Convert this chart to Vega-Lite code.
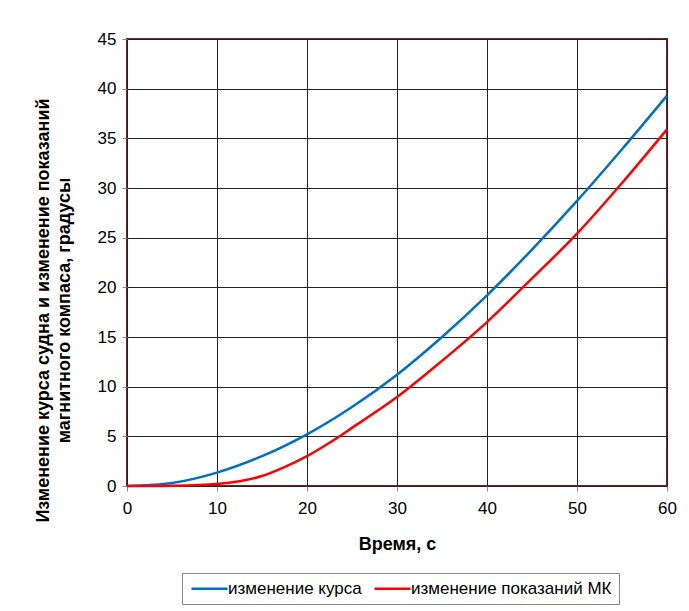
{
  "$schema": "https://vega.github.io/schema/vega-lite/v6.json",
  "autosize": "none",
  "width": 540,
  "height": 447,
  "padding": {"left": 127, "top": 39, "right": 22, "bottom": 125},
  "background": "white",
  "config": {
    "font": "Liberation Sans",
    "view": {"stroke": "#8B1A1A", "strokeWidth": 2},
    "axis": {
      "labelFont": "Liberation Sans",
      "labelFontSize": 17,
      "labelColor": "black",
      "labelFlush": false,
      "labelOverlap": false,
      "titleFont": "Liberation Sans",
      "titleFontSize": 18,
      "titleFontWeight": "bold",
      "titleColor": "black",
      "gridColor": "#222222",
      "gridOpacity": 1,
      "gridWidth": 1,
      "domain": false,
      "tickColor": "#888888",
      "tickSize": 5
    }
  },
  "data": {
    "values": [
      {"t": 0, "v": 0, "s": "изменение курса"},
      {"t": 5, "v": 0.3, "s": "изменение курса"},
      {"t": 10, "v": 1.35, "s": "изменение курса"},
      {"t": 15, "v": 3.0, "s": "изменение курса"},
      {"t": 20, "v": 5.2, "s": "изменение курса"},
      {"t": 25, "v": 7.95, "s": "изменение курса"},
      {"t": 30, "v": 11.2, "s": "изменение курса"},
      {"t": 35, "v": 15.0, "s": "изменение курса"},
      {"t": 40, "v": 19.2, "s": "изменение курса"},
      {"t": 45, "v": 23.8, "s": "изменение курса"},
      {"t": 50, "v": 28.7, "s": "изменение курса"},
      {"t": 55, "v": 33.9, "s": "изменение курса"},
      {"t": 60, "v": 39.3, "s": "изменение курса"},
      {"t": 0, "v": 0, "s": "изменение показаний МК"},
      {"t": 5, "v": 0.02, "s": "изменение показаний МК"},
      {"t": 10, "v": 0.2, "s": "изменение показаний МК"},
      {"t": 12.5, "v": 0.48, "s": "изменение показаний МК"},
      {"t": 15, "v": 1.0, "s": "изменение показаний МК"},
      {"t": 17.5, "v": 1.9, "s": "изменение показаний МК"},
      {"t": 20, "v": 3.0, "s": "изменение показаний МК"},
      {"t": 22.5, "v": 4.35, "s": "изменение показаний МК"},
      {"t": 25, "v": 5.85, "s": "изменение показаний МК"},
      {"t": 30, "v": 8.95, "s": "изменение показаний МК"},
      {"t": 35, "v": 12.6, "s": "изменение показаний МК"},
      {"t": 40, "v": 16.5, "s": "изменение показаний МК"},
      {"t": 45, "v": 20.9, "s": "изменение показаний МК"},
      {"t": 50, "v": 25.4, "s": "изменение показаний МК"},
      {"t": 55, "v": 30.5, "s": "изменение показаний МК"},
      {"t": 60, "v": 35.9, "s": "изменение показаний МК"}
    ]
  },
  "mark": {"type": "line", "interpolate": "catmull-rom", "strokeWidth": 2.5},
  "encoding": {
    "x": {
      "field": "t",
      "type": "quantitative",
      "scale": {"domain": [0, 60], "nice": false},
      "axis": {"values": [0, 10, 20, 30, 40, 50, 60], "title": "Время, с", "titlePadding": 19, "labelPadding": 9}
    },
    "y": {
      "field": "v",
      "type": "quantitative",
      "scale": {"domain": [0, 45], "nice": false},
      "axis": {
        "values": [0, 5, 10, 15, 20, 25, 30, 35, 40, 45],
        "title": ["Изменение курса судна и изменение показаний", "магнитного компаса, градусы"],
        "titlePadding": 24,
        "titleLineHeight": 21,
        "titleY": 271,
        "labelPadding": 6
      }
    },
    "color": {
      "field": "s",
      "type": "nominal",
      "scale": {"domain": ["изменение курса", "изменение показаний МК"], "range": ["#0070C0", "#FF0000"]},
      "legend": {
        "title": null,
        "orient": "none",
        "direction": "horizontal",
        "legendX": 55,
        "legendY": 534,
        "symbolType": "M-1,0L5,0",
        "symbolSize": 144,
        "symbolStrokeWidth": 2.5,
        "symbolFillColor": "transparent",
        "labelFontSize": 17,
        "labelFont": "Liberation Sans",
        "labelColor": "black",
        "labelLimit": 0,
        "strokeColor": "#888888",
        "padding": 7,
        "columnPadding": 7,
        "labelOffset": 22,
        "fillColor": "white"
      }
    }
  }
}
